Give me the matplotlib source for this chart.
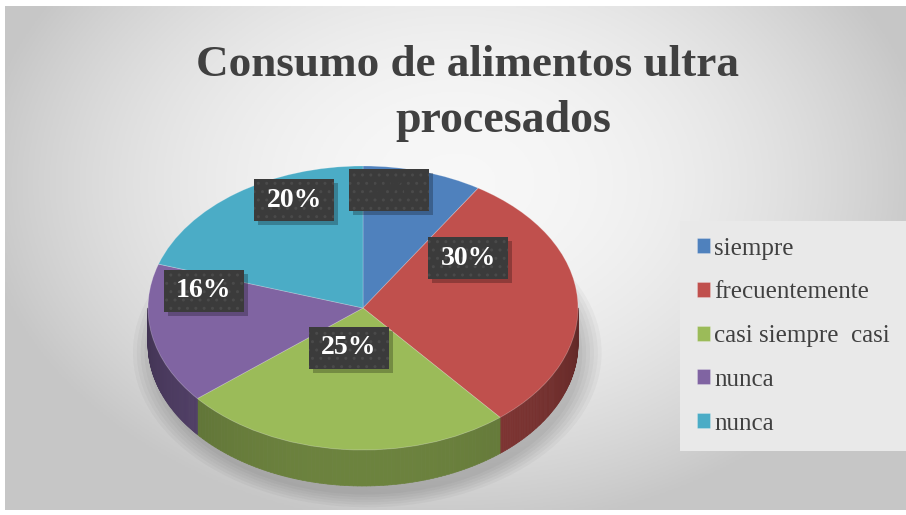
import numpy as np
import matplotlib.pyplot as plt
from matplotlib.patches import Rectangle, Ellipse
from matplotlib.collections import PolyCollection
from matplotlib.colors import to_rgb

categories = ['siempre', 'frecuentemente', 'casi siempre  casi', 'nunca', 'nunca']
values = [9, 30, 25, 16, 20]
colors = ['#4F81BD', '#C0504D', '#9BBB59', '#8064A2', '#4BACC6']
title_1 = 'Consumo de alimentos ultra'
title_2 = 'procesados'

# label box centres (data units of the pie axes)
label_pos = [(0.12, 0.83), (0.49, 0.35), (-0.065, -0.28), (-0.74, 0.12), (-0.32, 0.76)]

W, H = 906, 515
fig = plt.figure(figsize=(W / 100, H / 100), dpi=100, facecolor='white')

# background panel with soft radial gradient
bg = fig.add_axes([0, 0, 1, 1])
bg.set_xlim(0, W)
bg.set_ylim(H, 0)
bg.axis('off')
gx, gy = np.meshgrid(np.linspace(-1, 1, 300), np.linspace(-1, 1, 200))
r2 = gx ** 2 + ((gy + 0.3) / 1.3) ** 2
shade = np.clip(0.97 - 0.17 * r2, 0.78, 1)
bg.imshow(np.dstack([shade] * 3), extent=(5, W, 510, 6), aspect='auto', zorder=0)

# pie geometry in pixels
cx, cy, rx, ry, depth = 363, 308, 215, 142, 36
xl, xr = -1.25, 1.25
yb, yt = -1.75, 1.2
left = (cx + xl * rx) / W
width = (xr - xl) * rx / W
top_px = cy - yt * ry
height = (yt - yb) * ry / H
bottom = 1 - top_px / H - height
ax = fig.add_axes([left, bottom, width, height])

wedges, texts, autotexts = ax.pie(
    values, colors=colors, startangle=90, counterclock=False, radius=1,
    autopct=lambda p: f'{p:.0f}%',
    wedgeprops=dict(linewidth=0.6, edgecolor=(1, 1, 1, 0.25)))
ax.set_aspect('auto')
ax.set_xlim(xl, xr)
ax.set_ylim(yb, yt)
ax.axis('off')

dd = depth / ry

# soft shadow under the pie
for k in range(6):
    s = 1.0 + 0.018 * k
    ax.add_patch(Ellipse((0.02, -dd - 0.06), 2 * s, 2 * s, facecolor='#000000',
                         alpha=0.03, edgecolor='none', zorder=0.2))

# side faces
for w, c in zip(wedges, colors):
    t1, t2 = w.theta1, w.theta2
    base = np.array(to_rgb(c))
    for off in (-360, 0, 360):
        lo, hi = max(t1, 180 + off), min(t2, 360 + off)
        if hi <= lo:
            continue
        th = np.radians(np.linspace(lo, hi, 80))
        polys, cols = [], []
        for a, b in zip(th[:-1], th[1:]):
            polys.append([(np.cos(a), np.sin(a)), (np.cos(b), np.sin(b)),
                          (np.cos(b), np.sin(b) - dd), (np.cos(a), np.sin(a) - dd)])
            f = 0.5 + 0.2 * (-np.sin((a + b) / 2))
            cols.append(base * f)
        ax.add_collection(PolyCollection(polys, facecolors=cols, edgecolors=cols,
                                         linewidths=0.5, zorder=0.5))

# data label boxes
bw, bh = 80 / rx, 42 / ry
for i, (t, (lx, ly)) in enumerate(zip(autotexts, label_pos)):
    ax.add_patch(Rectangle((lx - bw / 2 + 4 / rx, ly - bh / 2 - 4 / ry), bw, bh,
                           facecolor='#000000', alpha=0.25, edgecolor='none', zorder=2.9))
    ax.add_patch(Rectangle((lx - bw / 2, ly - bh / 2), bw, bh,
                           facecolor='#3b3b3b', edgecolor='none', zorder=3))
    ax.add_patch(Rectangle((lx - bw / 2, ly - bh / 2), bw, bh, fill=False,
                           hatch='..', edgecolor='#4a4a4a', linewidth=0, zorder=3.1))
    t.set_position((lx, ly))
    t.set_fontfamily('Liberation Serif')
    t.set_fontweight('bold')
    t.set_fontsize(20)
    t.set_zorder(4)
    t.set_color('white' if i > 0 else '#3b3b3b')

# title
fig.text(468 / W, 1 - 76 / H, title_1, ha='center', va='baseline', fontsize=32.5,
         fontweight='bold', family='Liberation Serif', color='#404040')
fig.text(503 / W, 1 - 132 / H, title_2, ha='center', va='baseline', fontsize=33,
         fontweight='bold', family='Liberation Serif', color='#404040')

# legend
leg = fig.legend(wedges, categories, loc='upper left',
                 bbox_to_anchor=(680 / W, 1 - 221 / H), borderaxespad=0,
                 prop=dict(family='Liberation Serif', size=18),
                 handlelength=0.55, handleheight=0.55, handletextpad=0.15,
                 labelspacing=0.87, borderpad=0.66, fancybox=False,
                 frameon=True, framealpha=1, facecolor='#e9e9e9', edgecolor='none')
for txt in leg.get_texts():
    txt.set_color('#404040')

fig.savefig('out.png', dpi=100)
